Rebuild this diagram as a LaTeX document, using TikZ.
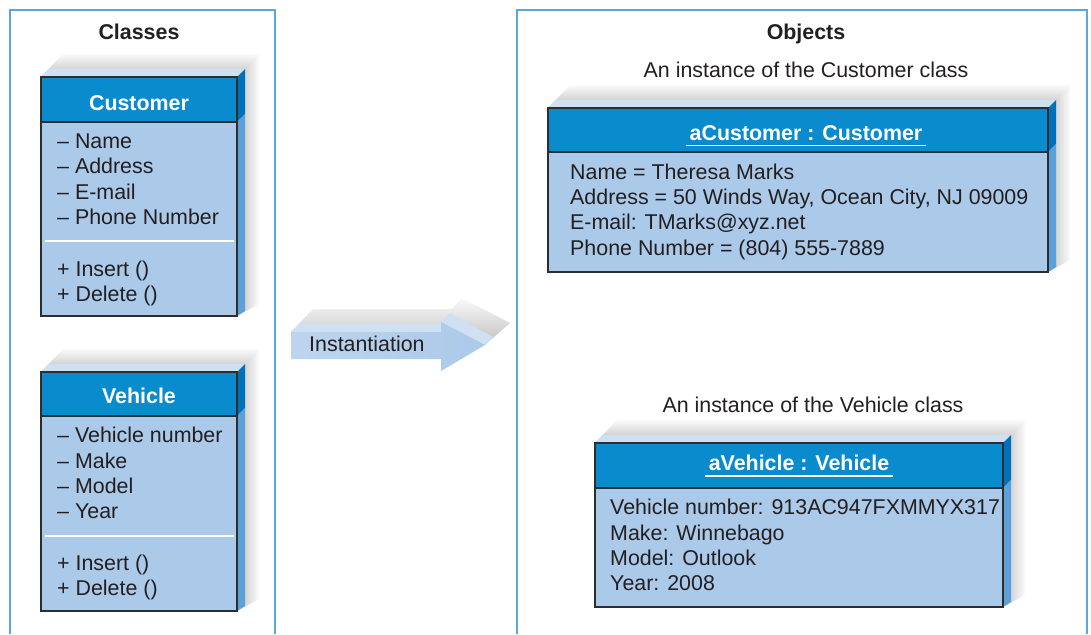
\documentclass[tikz,border=0pt]{standalone}
\usepackage{fontspec}
\setmainfont{Liberation Sans}
\definecolor{hdblue}{RGB}{10,139,205}
\definecolor{bodyblue}{RGB}{171,201,233}
\definecolor{topblue}{RGB}{207,224,243}
\definecolor{sidedark}{RGB}{0,113,185}
\definecolor{sideblue}{RGB}{91,160,216}
\definecolor{framebl}{RGB}{90,167,220}
\definecolor{edge}{RGB}{45,45,45}
\definecolor{ink}{RGB}{35,31,32}

\begin{document}
\begin{tikzpicture}[x=1pt, y=1pt,
	every node/.style={font=\fontsize{21.4}{25}\selectfont, text=ink, inner sep=0pt},
	title/.style={anchor=base, font=\fontsize{21.4}{25}\selectfont\bfseries},
	head/.style={anchor=base, font=\fontsize{21.4}{25}\selectfont\bfseries, text=white},
	caption/.style={anchor=base},
	line/.style={anchor=base west},
	panel/.style={draw=framebl, line width=1.2pt},
	front/.style={draw=edge, line width=1.3pt},
	underline/.style={draw=white, line width=1.2pt}]

	\useasboundingbox (0,0) rectangle (1091,-634);

	% the two panels
	\draw[panel] (10,-634) -- (10,-10) -- (275,-10) -- (275,-634);
	\draw[panel] (517,-634) -- (517,-10) -- (1087,-10) -- (1087,-634);

	% boxes: left/top/right/bottom/header bottom
	\foreach \xa/\ya/\xb/\yb/\yh in {41/77/237/316/122, 41/372/237/611/416, 548/108/1048/272/152, 595/443/1003/607/488}{
		\shade[top color=gray!4, bottom color=gray!50] (\xa,-\ya) -- (\xa+22,-\ya+23) -- (\xb+22,-\ya+23) -- (\xb,-\ya) -- cycle;
		\shade[left color=gray!50, right color=gray!3] (\xb,-\ya) -- (\xb+22,-\ya+23) -- (\xb+22,-\yb+12) -- (\xb,-\yb) -- cycle;
		\fill[topblue] (\xa,-\ya) -- (\xa+8,-\ya+8) -- (\xb+8,-\ya+8) -- (\xb,-\ya) -- cycle;
		\fill[sidedark] (\xb,-\ya) -- (\xb+8,-\ya+8) -- (\xb+8,-\yh+8) -- (\xb,-\yh) -- cycle;
		\fill[sideblue] (\xb,-\yh) -- (\xb+8,-\yh+8) -- (\xb+8,-\yb+5) -- (\xb,-\yb) -- cycle;
		\filldraw[front, fill=hdblue] (\xa,-\ya) rectangle (\xb,-\yh);
		\filldraw[front, fill=bodyblue] (\xa,-\yh) rectangle (\xb,-\yb);
	}
	\draw[underline] (45,-241) -- (234,-241);
	\draw[underline] (45,-536) -- (234,-536);

	% instantiation arrow
	\shade[top color=gray!4, bottom color=gray!50] (291,-332) -- (313,-309) -- (452,-309) -- (462,-298) -- (510,-323) -- (485,-345) -- cycle;
	\fill[topblue] (291,-332) -- (299,-324) -- (441,-324) -- (441,-332) -- cycle;
	\fill[topblue] (441,-322) -- (450,-313) -- (493,-337) -- (485,-345) -- cycle;
	\shade[left color=topblue!50!bodyblue, right color=bodyblue] (291,-332) -- (441,-332) -- (441,-322) -- (485,-345) -- (441,-371) -- (441,-359) -- (291,-359) -- cycle;
	\node[line] (inst) at (309,-351.5) {Instantiation};

	% classes
	\node[title] (classes) at (139,-39.5) {Classes};
	\node[head] (customer) at (139,-110) {Customer};
	\node[line] (c1) at (57,-148.5) {– Name};
	\node[line] (c2) at (57,-173.8) {– Address};
	\node[line] (c3) at (57,-199) {– E-mail};
	\node[line] (c4) at (57,-224.3) {– Phone Number};
	\node[line] (c5) at (57,-276) {+ Insert ()};
	\node[line] (c6) at (57,-301.5) {+ Delete ()};

	\node[head] (vehicle) at (139,-403.5) {Vehicle};
	\node[line] (v1) at (57,-442.7) {– Vehicle number};
	\node[line] (v2) at (57,-468.2) {– Make};
	\node[line] (v3) at (57,-493.3) {– Model};
	\node[line] (v4) at (57,-518.3) {– Year};
	\node[line] (v5) at (57,-570) {+ Insert ()};
	\node[line] (v6) at (57,-595) {+ Delete ()};

	% objects
	\node[title] (objects) at (806,-39.5) {Objects};
	\node[caption] (ccap) at (806,-77.5) {An instance of the Customer class};
	\node[head] (acust) at (806,-140.5) {aCustomer : Customer};
	\draw[underline] ([xshift=-3pt, yshift=-5pt]acust.base west) -- ([xshift=3pt, yshift=-5pt]acust.base east);
	\node[line] (o1) at (570,-179.3) {Name = Theresa Marks};
	\node[line] (o2) at (570,-204.3) {Address = 50 Winds Way, Ocean City, NJ 09009};
	\node[line] (o3) at (570,-229.5) {E-mail: TMarks@xyz.net};
	\node[line] (o4) at (570,-255) {Phone Number = (804) 555-7889};

	\node[caption] (vcap) at (813,-412.7) {An instance of the Vehicle class};
	\node[head] (aveh) at (799,-470) {aVehicle : Vehicle};
	\draw[underline] ([xshift=-4pt, yshift=-6pt]aveh.base west) -- ([xshift=4pt, yshift=-6pt]aveh.base east);
	\node[line] (p1) at (610,-514) {Vehicle number: 913AC947FXMMYX317};
	\node[line] (p2) at (610,-540) {Make: Winnebago};
	\node[line] (p3) at (610,-565) {Model: Outlook};
	\node[line] (p4) at (610,-590) {Year: 2008};
\end{tikzpicture}
\end{document}
